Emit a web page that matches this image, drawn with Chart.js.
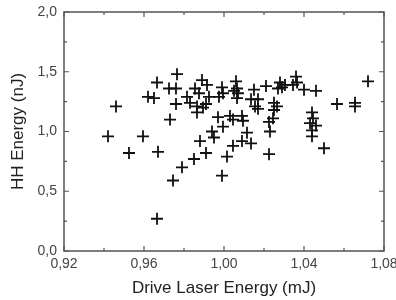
<!DOCTYPE html>
<html>
<head>
<meta charset="utf-8">
<script src="https://cdn.jsdelivr.net/npm/chart.js@4.4.0/dist/chart.umd.min.js"></script>
<style>
  html, body { margin: 0; padding: 0; background: #fff; }
  #wrap { width: 396px; height: 300px; }
</style>
</head>
<body>
<div id="wrap"><canvas id="chart" width="396" height="300"></canvas></div>
<script>
// Drive laser energy (mJ) and HH energy (nJ)
const laserEnergy = [
  0.942, 0.946, 0.9525, 0.9595, 0.962, 0.965, 0.9665, 0.967, 0.9665, 0.9725,
  0.976, 0.9765, 0.976, 0.973, 0.9745, 0.979, 0.9815, 0.983, 0.985, 0.9855,
  0.9875, 0.9865, 0.9865, 0.9895, 0.991, 0.989, 0.9915, 0.9925, 0.988, 0.991,
  0.994, 0.995, 0.9975, 0.999, 0.9995, 0.997, 0.9995, 0.999, 1.0015, 1.003,
  1.0045, 1.0045, 1.006, 1.0065, 1.005, 1.007, 1.0065, 1.009, 1.0095, 1.009,
  1.0115, 1.0135, 1.015, 1.0135, 1.017, 1.0155, 1.017, 1.021, 1.0225, 1.023,
  1.0225, 1.0245, 1.025, 1.0265, 1.025, 1.028, 1.029, 1.027, 1.0305, 1.0345,
  1.036, 1.0365, 1.040, 1.046, 1.044, 1.0445, 1.043, 1.046, 1.044, 1.044,
  1.050, 1.0565, 1.0655, 1.0655, 1.072
];
const hhEnergy = [
  0.96, 1.21, 0.82, 0.96, 1.29, 1.28, 1.41, 0.83, 0.27, 1.36,
  1.36, 1.48, 1.23, 1.10, 0.59, 0.70, 1.29, 1.24, 0.77, 1.36,
  1.32, 1.16, 1.21, 1.20, 1.23, 1.43, 1.39, 1.29, 0.92, 0.82,
  1.00, 0.95, 1.29, 1.37, 1.32, 1.12, 1.04, 0.63, 0.79, 1.13,
  1.10, 0.88, 1.42, 1.36, 1.34, 1.32, 1.28, 1.13, 1.09, 0.92,
  0.99, 0.90, 1.35, 1.27, 1.27, 1.21, 1.19, 1.38, 0.81, 1.00,
  1.08, 1.11, 1.24, 1.21, 1.18, 1.41, 1.37, 1.36, 1.39, 1.39,
  1.46, 1.41, 1.35, 1.34, 1.16, 1.11, 1.07, 1.05, 1.01, 0.96,
  0.86, 1.23, 1.24, 1.21, 1.42
];
const xTicks = [0.92, 0.96, 1.00, 1.04, 1.08];
const yTicks = [0.0, 0.5, 1.0, 1.5, 2.0];

const points = laserEnergy.map((x, i) => ({ x: x, y: hhEnergy[i] }));
const comma = (v, d) => v.toFixed(d).replace('.', ',');

// frame with inward ticks on all four sides
const framePlugin = {
  id: 'frame',
  afterDraw(chart) {
    const { ctx, chartArea: a, scales } = chart;
    ctx.save();
    ctx.strokeStyle = '#555';
    ctx.lineWidth = 1.5;
    ctx.strokeRect(a.left, a.top, a.right - a.left, a.bottom - a.top);
    ctx.lineWidth = 1.2;
    ctx.beginPath();
    for (let i = 0; i < xTicks.length * 2 - 1; i++) {
      const v = xTicks[0] + i * 0.02;
      const px = scales.x.getPixelForValue(v);
      const len = i % 2 === 0 ? 5 : 3;
      ctx.moveTo(px, a.bottom); ctx.lineTo(px, a.bottom - len);
      ctx.moveTo(px, a.top); ctx.lineTo(px, a.top + len);
    }
    for (let i = 0; i < yTicks.length * 2 - 1; i++) {
      const v = yTicks[0] + i * 0.25;
      const py = scales.y.getPixelForValue(v);
      const len = i % 2 === 0 ? 5 : 3;
      ctx.moveTo(a.left, py); ctx.lineTo(a.left + len, py);
      ctx.moveTo(a.right, py); ctx.lineTo(a.right - len, py);
    }
    ctx.stroke();
    ctx.restore();
  }
};

new Chart(document.getElementById('chart'), {
  type: 'scatter',
  data: {
    datasets: [{
      data: points,
      pointStyle: 'cross',
      pointRadius: 6,
      pointBorderWidth: 1.8,
      borderColor: '#111',
      backgroundColor: '#111'
    }]
  },
  options: {
    responsive: false,
    animation: false,
    layout: { padding: { top: 12, right: 12, left: 0, bottom: 0 } },
    plugins: { legend: { display: false }, tooltip: { enabled: false } },
    scales: {
      x: {
        type: 'linear',
        min: 0.92, max: 1.08,
        afterBuildTicks: s => { s.ticks = xTicks.map(v => ({ value: v })); },
        afterFit: s => { s.height = 49; s.paddingRight = 0; s.paddingLeft = 0; },
        grid: { display: false, drawTicks: false },
        border: { display: false },
        ticks: {
          padding: 5,
          color: '#444',
          font: { family: 'Liberation Sans, Arial', size: 14 },
          maxRotation: 0,
          callback: v => comma(v, 2)
        },
        title: {
          display: true,
          text: 'Drive Laser Energy (mJ)',
          color: '#222',
          font: { family: 'Liberation Sans, Arial', size: 17 },
          padding: { top: 0, bottom: 1 }
        }
      },
      y: {
        type: 'linear',
        min: 0, max: 2,
        afterBuildTicks: s => { s.ticks = yTicks.map(v => ({ value: v })); },
        afterFit: s => { s.width = 64; s.paddingTop = 0; s.paddingBottom = 0; },
        grid: { display: false, drawTicks: false },
        border: { display: false },
        ticks: {
          padding: 7,
          color: '#444',
          font: { family: 'Liberation Sans, Arial', size: 14 },
          callback: v => comma(v, 1)
        },
        title: {
          display: true,
          text: 'HH Energy (nJ)',
          color: '#222',
          font: { family: 'Liberation Sans, Arial', size: 17 },
          padding: { top: 8, bottom: 0 }
        }
      }
    }
  },
  plugins: [framePlugin]
});
</script>
</body>
</html>
